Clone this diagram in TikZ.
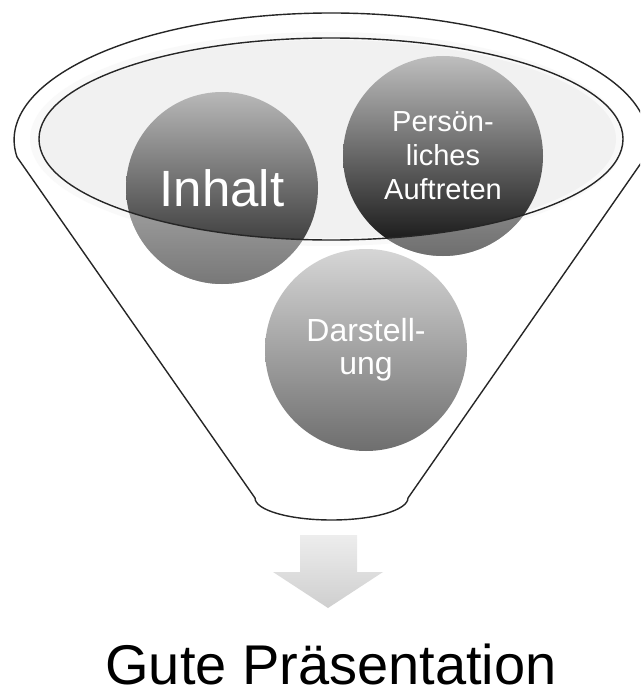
\documentclass[tikz,border=0pt]{standalone}
\usepackage{fontspec}
\setmainfont{Liberation Sans}
\usetikzlibrary{calc}
\tikzset{every node/.style={font=\rmfamily}}
\definecolor{inhaltTop}{RGB}{184,184,184}
\definecolor{inhaltBot}{RGB}{30,30,30}
\definecolor{persTop}{RGB}{190,190,190}
\definecolor{persBot}{RGB}{14,14,14}
\definecolor{darstTop}{RGB}{214,214,214}
\definecolor{darstBot}{RGB}{110,110,110}
\colorlet{rimcol}{black!85}

\begin{document}
\begin{tikzpicture}[x=1pt, y=-1pt,
  ball/.style={circle, inner sep=0pt, text=white, align=center},
  rim/.style={line width=1.4pt, rimcol}]

\clip (0,0) rectangle (640,690);

\def\rIn{96}
\def\rPe{100}
\def\rDa{101}

% Trichter
\coordinate (FL) at (17,157);
\coordinate (FR) at (645,157);
\coordinate (BL) at (255,498);
\coordinate (BR) at (408,498);
\coordinate (TOP) at (331,139);

\filldraw[rim, fill=white] (FL) arc[start angle=172.3, end angle=367.7, x radius=317, y radius=127]
  -- (BR) arc[start angle=0, end angle=180, x radius=76.5, y radius=22] -- cycle;

% Oberflaeche
\fill[gray!5] ($(TOP)+(-4,0)$) ellipse[x radius=297, y radius=107];
\fill[gray!11] ($(TOP)+(-3,0)$) ellipse[x radius=288, y radius=99];

% Kugeln
\node[ball, minimum size=2*\rIn pt, top color=inhaltTop, bottom color=inhaltBot,
  font=\fontsize{51}{56}\selectfont] (inhalt) at (222,188) {Inhalt};
\node[ball, minimum size=2*\rPe pt, top color=persTop, bottom color=persBot,
  font=\fontsize{29}{34}\selectfont] (pers) at (443,156) {Persön-\\liches\\Auftreten};

\foreach \n/\r in {inhalt/\rIn, pers/\rPe} {
  \begin{scope}
    \clip (\n.center) circle (\r);
    \fill[white, opacity=.4, even odd rule] (0,0) rectangle (640,690)
      (TOP) ellipse[x radius=292, y radius=101];
  \end{scope}
}

\node[ball, minimum size=2*\rDa pt, top color=darstTop, bottom color=darstBot,
  font=\fontsize{32}{33}\selectfont] (darst) at (366,350) {Darstell-\\ung};

\draw[rim] (TOP) ellipse[x radius=292, y radius=101];

% Pfeil
\shade[top color=gray!14, bottom color=gray!38]
  (300,535) -- (357,535) -- (357,572) -- (383,572) -- (328,608)
  -- (273,572) -- (300,572) -- cycle;

\node[anchor=base, inner sep=0pt, font=\fontsize{56}{60}\selectfont] (result) at (331,684) {Gute Präsentation};

\end{tikzpicture}
\end{document}
